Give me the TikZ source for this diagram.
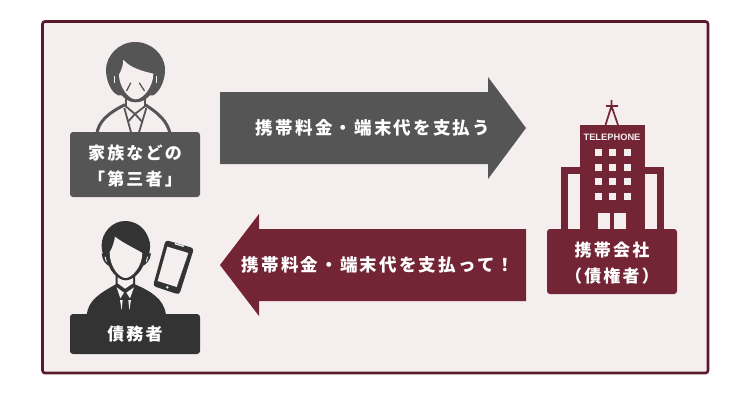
\documentclass[tikz,border=0pt]{standalone}
\usepackage{fontspec}
\newfontfamily\jp[LetterSpace=12.5]{Noto Sans CJK JP Black}
\newfontfamily\jpb[LetterSpace=13]{Noto Sans CJK JP Black}
\setsansfont{Liberation Sans}
\definecolor{wine}{HTML}{732535}
\definecolor{edge}{HTML}{5A1A2B}
\definecolor{paper}{HTML}{F5EEEF}
\definecolor{gr}{HTML}{555555}
\definecolor{dk}{HTML}{333333}
\tikzset{
  panel/.style={draw=edge,line width=2.6pt,fill=paper,rounded corners=2.5pt},
  labbox/.style={rounded corners=3pt,inner sep=0pt,minimum width=130pt},
  lab/.style={text=white,align=center,inner sep=0pt,font=\jpb\fontsize{17}{26.5}\selectfont},
  arrowtext/.style={text=white,inner sep=0pt,font=\jp\fontsize{17.5}{20}\selectfont},
  zoomed/.style={x=.33333pt,y=-.33333pt},
}
\begin{document}
\begin{tikzpicture}[x=1pt,y=-1pt]
\useasboundingbox (0,0) rectangle (750,400);
\fill[white] (0,0) rectangle (750,400);
\draw[panel] (42.5,21.5) rectangle (708,373);
% arrows
\fill[gr] (220,92) -- (488,92) -- (488,77) -- (526,128) -- (488,179) -- (488,164) -- (220,164) -- cycle;
\node[arrowtext] (t1) at (373,128) {携帯料金・端末代を支払う};
\fill[wine] (526,229) -- (259,229) -- (259,214) -- (220,265) -- (259,316) -- (259,301) -- (526,301) -- cycle;
\node[arrowtext] (t2) at (378,265) {携帯料金・端末代を支払って！};
% woman
\begin{scope}[shift={(95,38)},zoomed]
  \draw[gr,line width=3pt] (5,290) .. controls (10,250) and (40,225) .. (90,200)
     (226,290) .. controls (218,250) and (190,225) .. (150,200);
  \fill[gr] (120,12) .. controls (70,12) and (33,55) .. (33,95)
     .. controls (33,130) and (50,165) .. (70,172) -- (175,172)
     .. controls (195,160) and (212,125) .. (210,90)
     .. controls (207,50) and (170,12) .. (120,12) -- cycle;
  \fill[gr] (65,150) .. controls (85,185) and (105,193) .. (122,193)
     .. controls (140,193) and (160,185) .. (180,150) -- cycle;
  \fill[paper] (72,110) .. controls (80,95) and (85,80) .. (85,65)
     .. controls (105,90) and (145,100) .. (175,107)
     .. controls (175,145) and (145,184) .. (122,184)
     .. controls (100,184) and (72,145) .. (72,110) -- cycle;
  \draw[paper,line width=1pt] (59,114) -- (59,134) (184,114) -- (184,134);
  \draw[gr,line width=1.3pt,line cap=round] (107,135) -- (95,158) (133,135) -- (148,158);
  \draw[gr,line width=1.8pt] (92,172) -- (92,205) (150,172) -- (150,205);
  \draw[gr,line width=1.8pt] (90,203) -- (120,228) -- (152,203)
     (120,228) -- (100,250) (120,228) -- (140,250)
     (88,210) -- (110,290) (154,210) -- (130,290);
\end{scope}
% man
\begin{scope}[shift={(95,215)},zoomed]
  \fill[dk] (-25,300) .. controls (-20,255) and (15,235) .. (62,208) -- (62,170) -- (120,170) -- (120,208)
     .. controls (165,228) and (207,250) .. (213,300) -- cycle;
  \fill[paper] (68,180) -- (68,205) -- (90,221) -- (114,205) -- (114,180) -- cycle;
  \fill[paper] (65,217) -- (87,233) -- (76,250) -- cycle;
  \fill[paper] (117,217) -- (94,233) -- (105,250) -- cycle;
  \fill[paper] (75,255) -- (83,255) -- (80,286) -- cycle;
  \fill[paper] (100,255) -- (108,255) -- (103,286) -- cycle;
  % ears
  \fill[dk] (20,115) -- (42,115) -- (48,155) .. controls (30,150) and (22,135) .. (20,115) -- cycle;
  \fill[dk] (168,115) -- (144,115) -- (138,155) .. controls (155,150) and (166,135) .. (168,115) -- cycle;
  \draw[paper,line width=.9pt] (30,124) -- (34,140) (158,124) -- (154,140);
  % hair and head
  \fill[dk] (90,18) .. controls (50,18) and (20,55) .. (20,90)
     .. controls (20,105) and (22,115) .. (28,125) -- (36,125)
     .. controls (36,165) and (70,196) .. (92,196)
     .. controls (115,196) and (150,165) .. (150,125) -- (160,125)
     .. controls (166,105) and (168,85) .. (160,68)
     .. controls (148,35) and (120,18) .. (90,18) -- cycle;
  \fill[paper] (44,112) .. controls (52,98) and (58,80) .. (60,65)
     .. controls (85,85) and (120,100) .. (142,114)
     .. controls (142,155) and (110,189) .. (92,189)
     .. controls (72,189) and (44,155) .. (44,112) -- cycle;
\end{scope}
% phone
\begin{scope}[shift={(60,205)},zoomed]
  \fill[dk,rounded corners=3pt] (317,105) -- (402,130) -- (358,269) -- (279,243) -- cycle;
  \fill[paper] (322,125) -- (385,144) -- (350,246) -- (293,228) -- cycle;
  \fill[paper] (345,114) -- (372,122) -- (371,126) -- (344,118) -- cycle;
  \fill[paper] (322,247) circle[radius=4];
\end{scope}
% building
\fill[wine] (561,167) rectangle (664,235);
\fill[paper] (568,174) rectangle (580,235);
\fill[paper] (645,174) rectangle (657,235);
\fill[wine] (580,125) rectangle (645,235);
\draw[wine,line width=1.7pt] (611.5,100) -- (611.5,110) (606,106) -- (618,106)
   (605.5,125) -- (611.5,106) -- (618,125);
\foreach \y in {149,164,178,193} \foreach \x in {594.5,609,623.5} \fill[paper] (\x,\y) rectangle ++(7.3,7.3);
\fill[paper] (598,213) rectangle (610,230);
\fill[paper] (614,213) rectangle (626,230);
\node[text=paper,inner sep=0pt,font=\sffamily\bfseries\fontsize{9.3}{10}\selectfont] (tel) at (612,137.5) {TELEPHONE};
% label boxes
\node[labbox,fill=gr,minimum height=65pt] (a) at (135,164.5) {};
\node[lab] (atext) at (135,166) {家族などの\\「第三者」};
\node[labbox,fill=dk,minimum height=40pt] (b) at (135,334) {};
\node[lab] (btext) at (135,334.5) {債務者};
\node[labbox,fill=wine,minimum height=65pt] (c) at (612,261.5) {};
\node[lab] (ctext) at (612,263) {携帯会社\\（債権者）};
\end{tikzpicture}
\end{document}
